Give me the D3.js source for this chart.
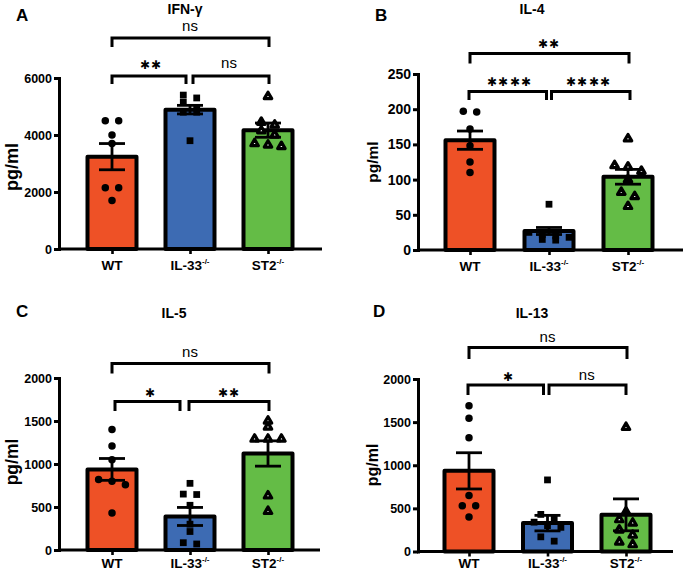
<!DOCTYPE html>
<html>
<head>
<meta charset="utf-8">
<script src="https://cdn.jsdelivr.net/npm/d3@7"></script>
<style>
  body { margin: 0; background: #fff; }
  text { font-family: "Liberation Sans", Arial, sans-serif; }
</style>
</head>
<body>
<svg id="fig" width="685" height="573"></svg>
<script>
const groups = ["WT", "IL-33", "ST2"];
const groupSup = ["", "-/-", "-/-"];
const groupColors = ["#EE5126", "#3D6BB3", "#64BC46"];
const markers = ["circle", "square", "triangle"];

// IFN-γ
const ifngMean = [3240, 4890, 4170];
const ifngSem = [460, 150, 250];
const ifngWT = [4500, 4500, 4000, 3700, 2150, 2150, 1700];
const ifngIL33 = [5400, 5300, 5150, 4950, 4800, 4800, 3800];
const ifngST2 = [5350, 4450, 4350, 4150, 4000, 3700, 3650, 3600];
const ifngSig = ["ns", "**", "ns"];

// IL-4
const il4Mean = [156, 27, 104];
const il4Sem = [13, 5, 10.5];
const il4WT = [197, 196, 172, 148, 125, 110];
const il4IL33 = [65, 25, 22, 20, 18, 15, 14];
const il4ST2 = [158, 120, 118, 112, 100, 82, 76, 62];
const il4Sig = ["**", "****", "****"];

// IL-5
const il5Mean = [937, 390, 1122];
const il5Sem = [127, 105, 147];
const il5WT = [1400, 1210, 1050, 820, 800, 760, 430];
const il5IL33 = [775, 650, 645, 520, 300, 215, 85, 70];
const il5ST2 = [1500, 1430, 1290, 1290, 1290, 630, 450];
const il5Sig = ["ns", "*", "**"];

// IL-13
const il13Mean = [935, 329, 425];
const il13Sem = [210, 90, 185];
const il13WT = [1690, 1545, 1320, 650, 530, 530, 400];
const il13IL33 = [830, 430, 380, 340, 300, 280, 170, 120];
const il13ST2 = [1440, 460, 370, 330, 250, 190, 110, 80];
const il13Sig = ["ns", "*", "ns"];

const ticks6000 = [0, 2000, 4000, 6000];
const ticks250 = [0, 50, 100, 150, 200, 250];
const ticks2000 = [0, 500, 1000, 1500, 2000];

const panels = [
  { letter: "A", title: "IFN-γ", mean: ifngMean, sem: ifngSem, pts: [ifngWT, ifngIL33, ifngST2], sig: ifngSig,
    yMax: 6000, ticks: ticks6000,
    left: 59, right: 322, y0: 249, yTop: 78, c0: 112, c2: 268, tickFont: 12.5, xlDy: 20.5,
    tx: 185, ty: 13.5, lx: 16, ly: 20.5, ylx: 12, yly: 167, ylSize: 18,
    top: { y: 38, leg: 47, ty: 26 }, low: { y: 76, leg: 84, ty: 63 }, inL: [0, -4], inR: [3, 0] },
  { letter: "B", title: "IL-4", mean: il4Mean, sem: il4Sem, pts: [il4WT, il4IL33, il4ST2], sig: il4Sig,
    yMax: 250, ticks: ticks250,
    left: 418, right: 683, y0: 250, yTop: 74, c0: 470, c2: 628, tickFont: 14, xlDy: 20.5,
    tx: 532, ty: 13.5, lx: 375, ly: 20.5, ylx: 373, yly: 162, ylSize: 15.5,
    top: { y: 53.5, leg: 63.5, ty: 42 }, low: { y: 91.5, leg: 100, ty: 80 }, inL: [-1, -2.5], inR: [2.5, 1] },
  { letter: "C", title: "IL-5", mean: il5Mean, sem: il5Sem, pts: [il5WT, il5IL33, il5ST2], sig: il5Sig,
    yMax: 2000, ticks: ticks2000,
    left: 59, right: 320, y0: 550, yTop: 378, c0: 112, c2: 268, tickFont: 12.5, xlDy: 17.5,
    tx: 174, ty: 318, lx: 16, ly: 317, ylx: 12, yly: 462, ylSize: 17.5,
    top: { y: 363.5, leg: 373.5, ty: 352 }, low: { y: 401.5, leg: 411, ty: 391 }, inL: [3, -10], inR: [-1, 0] },
  { letter: "D", title: "IL-13", mean: il13Mean, sem: il13Sem, pts: [il13WT, il13IL33, il13ST2], sig: il13Sig,
    yMax: 2000, ticks: ticks2000,
    left: 418, right: 673, y0: 551.5, yTop: 379, c0: 469, c2: 626, tickFont: 12.5, xlDy: 16.5,
    tx: 532, ty: 318, lx: 373, ly: 317, ylx: 372, yly: 465, ylSize: 16,
    top: { y: 347.5, leg: 359, ty: 337 }, low: { y: 385, leg: 395, ty: 375 }, inL: [-1, -4], inR: [1.5, -1] }
];

const svg = d3.select("#fig");

function markerPath(type) {
  if (type === "circle") return d3.symbol(d3.symbolCircle, 44)();
  if (type === "square") return d3.symbol(d3.symbolSquare, 46)();
  return d3.symbol(d3.symbolTriangle, 24)();
}

// points with similar y are put in one row and spread sideways
function swarm(values, y, step, thresh) {
  const sorted = values.slice().sort((a, b) => b - a);
  const rows = [];
  sorted.forEach((v) => {
    const py = y(v);
    const row = rows[rows.length - 1];
    if (row && py - row.y0 < thresh) row.items.push(py);
    else rows.push({ y0: py, items: [py] });
  });
  const out = [];
  rows.forEach((r) => {
    const n = r.items.length;
    r.items.forEach((py, i) => out.push({ dx: (i - (n - 1) / 2) * step, y: py }));
  });
  return out;
}

function drawPanel(p) {
  const g = svg.append("g");
  const y = d3.scaleLinear().domain([0, p.yMax]).range([p.y0, p.yTop]);
  const x = d3.scalePoint().domain(groups).range([p.c0, p.c2]);
  const bw = 49;

  // bars
  g.selectAll("rect.bar")
    .data(groups)
    .join("rect")
    .attr("class", "bar")
    .attr("x", (d) => x(d) - bw / 2)
    .attr("width", bw)
    .attr("y", (d, i) => y(p.mean[i]))
    .attr("height", (d, i) => p.y0 - y(p.mean[i]))
    .attr("fill", (d, i) => groupColors[i])
    .attr("stroke", "#000")
    .attr("stroke-width", 4)
    .attr("stroke-linejoin", "round");

  // points
  groups.forEach((grp, i) => {
    const pts = swarm(p.pts[i], y, 13.4, 6);
    const tri = markers[i] === "triangle";
    g.append("g")
      .selectAll("path")
      .data(pts)
      .join("path")
      .attr("d", markerPath(markers[i]))
      .attr("transform", (d) => `translate(${x(grp) + d.dx},${d.y})`)
      .attr("fill", tri ? "#fff" : "#000")
      .attr("stroke", "#000")
      .attr("stroke-width", tri ? 3.2 : 0)
      .attr("stroke-linejoin", "round");
  });

  // error bars (mean ± SEM)
  const eb = g.append("g").attr("stroke", "#000").attr("stroke-width", 2.8).attr("fill", "none");
  groups.forEach((grp, i) => {
    const cx = x(grp);
    const hi = y(p.mean[i] + p.sem[i]);
    const lo = y(Math.max(0, p.mean[i] - p.sem[i]));
    eb.append("line").attr("x1", cx).attr("x2", cx).attr("y1", hi).attr("y2", lo);
    eb.append("line").attr("x1", cx - 13).attr("x2", cx + 13).attr("y1", hi).attr("y2", hi);
    eb.append("line").attr("x1", cx - 13).attr("x2", cx + 13).attr("y1", lo).attr("y2", lo);
  });

  // y axis
  const ya = g.append("g")
    .attr("transform", `translate(${p.left},0)`)
    .call(d3.axisLeft(y).tickValues(p.ticks).tickSize(5).tickSizeOuter(0).tickPadding(2).tickFormat(d3.format("d")));
  ya.select(".domain").attr("stroke-width", 3).attr("stroke-linecap", "square");
  ya.selectAll(".tick line").attr("stroke-width", 3);
  ya.selectAll(".tick text")
    .attr("font-family", "'Liberation Sans', Arial, sans-serif")
    .attr("font-weight", "bold")
    .attr("font-size", p.tickFont)
    .attr("fill", "#000");

  // x axis
  const xa = g.append("g")
    .attr("transform", `translate(0,${p.y0})`)
    .call(d3.axisBottom(x).tickSize(5).tickSizeOuter(0).tickFormat(""));
  xa.select(".domain").remove();
  xa.selectAll(".tick line").attr("stroke-width", 2.6);
  g.append("line")
    .attr("x1", p.left).attr("x2", p.right)
    .attr("y1", p.y0).attr("y2", p.y0)
    .attr("stroke", "#000").attr("stroke-width", 3);

  const xl = g.selectAll("text.xl")
    .data(groups)
    .join("text")
    .attr("class", "xl")
    .attr("x", (d) => x(d))
    .attr("y", p.y0 + p.xlDy)
    .attr("text-anchor", "middle")
    .attr("font-weight", "bold")
    .attr("font-size", 13.5);
  xl.append("tspan").text((d) => d);
  xl.append("tspan")
    .attr("font-size", 8)
    .attr("dy", -6)
    .text((d, i) => groupSup[i]);

  // significance brackets
  const br = g.append("g").attr("stroke", "#000").attr("stroke-width", 3).attr("fill", "none");
  const bracket = (x1, x2, b) =>
    br.append("path").attr("d", `M${x1},${b.leg}V${b.y}H${x2}V${b.leg}`);
  const a = x(groups[0]), m = x(groups[1]), c = x(groups[2]);
  bracket(a, c + 1, p.top);
  bracket(a + p.inL[0], m + p.inL[1], p.low);
  bracket(m + p.inR[0], c + 1 + p.inR[1], p.low);

  const sigText = (label, cx, cy) => {
    const stars = label !== "ns";
    g.append("text")
      .attr("x", cx)
      .attr("y", stars ? cy + 6 : cy + 4.5)
      .attr("text-anchor", "middle")
      .attr("font-size", stars ? 12 : 15)
      .attr("font-family", stars ? "'DejaVu Sans', sans-serif" : "'Liberation Sans', Arial, sans-serif")
      .attr("letter-spacing", stars ? 1.5 : 0)
      .text(stars ? "✱".repeat(label.length) : label);
  };
  sigText(p.sig[0], (a + c) / 2, p.top.ty);
  sigText(p.sig[1], (a + m) / 2, p.low.ty);
  sigText(p.sig[2], (m + c) / 2, p.low.ty);

  // titles
  g.append("text")
    .attr("x", p.tx).attr("y", p.ty)
    .attr("text-anchor", "middle")
    .attr("font-weight", "bold").attr("font-size", 14)
    .text(p.title);
  g.append("text")
    .attr("x", p.lx).attr("y", p.ly)
    .attr("font-weight", "bold").attr("font-size", 17)
    .text(p.letter);
  g.append("text")
    .attr("transform", `translate(${p.ylx},${p.yly}) rotate(-90)`)
    .attr("text-anchor", "middle")
    .attr("dy", "0.35em")
    .attr("font-weight", "bold").attr("font-size", p.ylSize)
    .text("pg/ml");
}

panels.forEach(drawPanel);
</script>
</body>
</html>
